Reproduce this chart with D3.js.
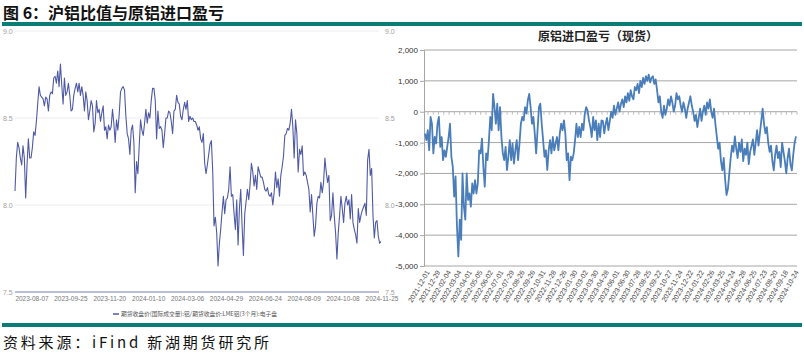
<!DOCTYPE html>
<html>
<head>
<meta charset="utf-8">
<script src="https://cdn.jsdelivr.net/npm/d3@7"></script>
<style>
	body { margin: 0; background: #fff; }
	svg text { font-family: Arial, "Liberation Sans", "Noto Sans CJK SC", sans-serif; }
</style>
</head>
<body>
<div id="chart"></div>
<script>
// left chart: ratio SHFE alu / LME alu
const leftDates = ['2023-08-07', '2023-09-25', '2023-11-20', '2024-01-10', '2024-03-06',
	'2024-04-29', '2024-06-24', '2024-08-09', '2024-10-08', '2024-11-25'];
const leftTicks = [7.5, 8.0, 8.5, 9.0];
const leftValues = [
	8.08, 8.27, 8.36, 8.33, 8.27, 8.23, 8.34, 8.27, 8.04, 8.23, 8.38, 8.27, 8.27, 8.33, 8.42, 8.40, 8.48, 8.58, 8.68,
	8.63, 8.62, 8.61, 8.57, 8.62, 8.61, 8.54, 8.63, 8.65, 8.64, 8.73, 8.74, 8.70, 8.77, 8.68, 8.81, 8.69, 8.58, 8.73, 8.63,
	8.65, 8.70, 8.63, 8.54, 8.55, 8.63, 8.67, 8.70, 8.65, 8.70, 8.63, 8.68, 8.63, 8.54, 8.65, 8.60, 8.49, 8.54, 8.60, 8.57,
	8.42, 8.47, 8.60, 8.53, 8.55, 8.48, 8.53, 8.57, 8.43, 8.45, 8.38, 8.46, 8.43, 8.45, 8.55, 8.47, 8.36, 8.49, 8.43, 8.52,
	8.65, 8.67, 8.68, 8.66, 8.51, 8.41, 8.38, 8.29, 8.43, 8.46, 8.36, 8.07, 8.25, 8.18, 8.34, 8.49, 8.43, 8.40, 8.47, 8.55,
	8.47, 8.53, 8.50, 8.60, 8.67, 8.67, 8.60, 8.38, 8.54, 8.44, 8.45, 8.43, 8.33, 8.41, 8.50, 8.50, 8.54, 8.53, 8.48, 8.41,
	8.54, 8.55, 8.63, 8.59, 8.58, 8.51, 8.49, 8.55, 8.59, 8.55, 8.60, 8.48, 8.51, 8.49, 8.50, 8.48, 8.48, 8.46, 8.43, 8.45,
	8.38, 8.36, 8.41, 8.24, 8.18, 8.23, 8.29, 8.35, 8.37, 8.20, 7.88, 7.93, 7.84, 7.65, 7.78, 7.86, 7.96, 8.05, 7.95, 8.03,
	8.04, 8.09, 8.22, 8.05, 8.06, 7.95, 7.86, 8.03, 7.77, 7.98, 8.09, 7.88, 7.71, 7.95, 8.02, 8.09, 8.03, 8.12, 8.24, 8.19,
	8.11, 8.17, 8.09, 8.22, 8.19, 8.16, 8.16, 8.13, 8.09, 8.08, 8.10, 8.06, 8.05, 8.07, 8.00, 8.07, 8.19, 8.10, 8.15, 8.05,
	8.17, 8.22, 8.28, 8.40, 8.41, 8.44, 8.43, 8.47, 8.55, 8.45, 8.27, 8.49, 8.41, 8.19, 8.32, 8.29, 8.34, 8.17, 8.19, 8.17,
	8.13, 8.09, 7.96, 8.06, 7.94, 7.82, 7.88, 8.01, 8.05, 8.04, 8.13, 8.07, 8.13, 8.27, 8.19, 8.13, 8.17, 7.91, 7.94, 8.07,
	7.94, 7.84, 7.69, 7.84, 7.94, 8.05, 7.98, 7.90, 8.01, 8.05, 8.00, 8.03, 7.92, 8.06, 7.90, 7.86, 7.83, 7.78, 7.98, 7.90,
	7.94, 7.97, 7.99, 8.01, 7.94, 8.26, 8.32, 8.17, 8.21, 7.94, 7.81, 7.90, 7.91, 7.82, 7.78, 7.79
];
const leftLegend = '期货收盘价(国际成交量):铝/期货收盘价:LME铝(3个月):电子盘';

// right chart: spot import profit / loss
const rightDates = ['2021-12-01', '2021-12-29', '2022-02-04', '2022-03-04', '2022-04-01', '2022-05-05',
	'2022-06-02', '2022-07-01', '2022-07-29', '2022-08-26', '2022-09-26', '2022-10-31', '2022-11-28',
	'2022-12-26', '2023-01-30', '2023-03-02', '2023-03-30', '2023-04-28', '2023-06-01', '2023-06-30',
	'2023-07-28', '2023-08-25', '2023-09-22', '2023-10-27', '2023-11-24', '2023-12-22', '2024-01-22',
	'2024-02-26', '2024-03-25', '2024-04-24', '2024-05-28', '2024-06-25', '2024-07-23', '2024-08-20',
	'2024-09-18', '2024-10-24'];
const rightTicks = [2000, 1000, 0, -1000, -2000, -3000, -4000, -5000];
const rightValues = [
	-710, -920, -600, -1250, -170, -390, -1350, -820, -1030, -390, -170, -1140, -820, -1570, -1250, -1460, -1140, -820,
	-390, -1460, -1790, -2750, -2100, -3720, -4690, -3500, -4150, -2000, -3080, -3500, -2000, -2860, -2650, -3080, -2320,
	-2650, -2220, -2650, -2320, -1250, -1350, -870, -1790, -2430, -1350, -1570, -920, -170, -600, 580, 150, -390, 260,
	-600, 150, -820, -1350, -1570, -1140, -1890, -1460, -920, -1570, -1030, -1680, -1250, -920, -1570, -1030, -390, -170,
	-280, 150, -60, 370, 580, 150, -390, -170, -710, -1350, -600, 150, 260, -390, -920, -1460, -1250, -1890, -1250, -920,
	-1350, -820, -1250, -1030, -820, -1250, -710, -390, -600, -280, -710, -1570, -1350, -2220, -1460, -1570, -1350, -920,
	-390, -820, -490, -820, -390, -600, -60, 150, 40, -280, -490, -820, -170, -600, -280, -920, -390, -820, -280,
	-300, -700, -400, -200, -600, -300, 0, -200, 200, -100,
	100, 300, 0, 250, 400, 150, 500, 300, 600, 350, 700, 500, 400, 800,
	700, 900, 600, 1000, 800, 1100, 900, 1150, 1000, 1200, 950, 1100, 1150, 900, 1050,
	700, 300, 500, 0, -200, 200, -100,
	100, 400, 200, 500, 300, 0, 200, 600, 400, 500, 200, 0, 300, 100, -200, 100, 300, 500, 200,
	0, -300, -100, -500, -200, 100, -300, 0, 200, -100, 300, 100, 400, 0, -200, 100, -400,
	-800, -1200, -1000, -1600, -1900, -1500, -2200, -2700, -2500, -2000,
	-1500, -1100, -1300, -800, -1200, -1500, -1000, -1300, -900, -1600, -1200, -1400, -1000, -1700, -1300, -1100, -900,
	-1400, -1000, -600, -1100, -700, -300, 100,
	-400, -700, -500, -1000, -1300, -1100, -1600, -1900, -1400, -1100, -1500, -1300, -1800, -1000, -1300, -1600, -2000,
	-1500, -1200, -1700, -1900, -1400, -1000, -800
];

const width = 804, height = 353;
const teal = '#0b7d78';

const svg = d3.select('#chart').append('svg')
	.attr('width', width)
	.attr('height', height);

// ### header / footer
svg.append('text')
	.attr('x', 3).attr('y', 19)
	.style('font-family', '"Noto Sans CJK SC", sans-serif')
	.style('font-size', '16px')
	.style('font-weight', 'bold')
	.attr('fill', '#111')
	.text('图 6：沪铝比值与原铝进口盈亏');

svg.append('rect').attr('x', 2).attr('y', 22).attr('width', 800).attr('height', 4).attr('fill', teal);
svg.append('rect').attr('x', 2).attr('y', 323).attr('width', 800).attr('height', 4).attr('fill', teal);

svg.append('text')
	.attr('x', 3).attr('y', 348)
	.style('font-family', '"Noto Sans CJK SC", sans-serif')
	.style('font-size', '15px')
	.attr('fill', '#111')
	.attr('textLength', 266)
	.attr('lengthAdjust', 'spacing')
	.text('资料来源：iFind 新湖期货研究所');

// ### LEFT CHART
const lx = d3.scaleLinear().domain([0, leftValues.length - 1]).range([15, 381]);
const ly = d3.scaleLinear().domain([7.5, 9.0]).range([292, 31]);
const lDateX = d3.scalePoint().domain(leftDates).range([32, 382]);

const left = svg.append('g').classed('left-chart', true);

left.selectAll('.grid')
	.data(leftTicks.filter(d => d !== 7.5))
	.enter().append('line')
	.attr('x1', 15).attr('x2', 379)
	.attr('y1', d => ly(d)).attr('y2', d => ly(d))
	.attr('stroke', '#ececf0').attr('stroke-width', 1);

left.append('line')
	.attr('x1', 15).attr('x2', 379)
	.attr('y1', ly(7.5)).attr('y2', ly(7.5))
	.attr('stroke', '#a3a8cf').attr('stroke-width', 1.6);

[['start', 3], ['start', 385]].forEach(([anchor, xPos]) => {
	left.selectAll(null)
		.data(leftTicks)
		.enter().append('text')
		.attr('x', xPos)
		.attr('y', d => ly(d) + 2.5)
		.attr('text-anchor', anchor)
		.style('font-size', '7px')
		.attr('fill', '#a0a0a0')
		.text(d => d3.format('.1f')(d));
});

left.selectAll('.xlab')
	.data(leftDates)
	.enter().append('text')
	.attr('x', d => lDateX(d))
	.attr('y', 301)
	.attr('text-anchor', 'middle')
	.style('font-size', '6.5px')
	.attr('fill', '#777')
	.text(d => d);

left.append('path')
	.datum(leftValues)
	.attr('fill', 'none')
	.attr('stroke', '#4f5aa5')
	.attr('stroke-width', 1.1)
	.attr('stroke-linejoin', 'round')
	.attr('d', d3.line().x((d, i) => lx(i)).y(d => ly(d)));

left.append('line')
	.attr('x1', 113).attr('x2', 119).attr('y1', 314).attr('y2', 314)
	.attr('stroke', '#4f5aa5').attr('stroke-width', 1.5);
left.append('text')
	.attr('x', 121).attr('y', 316)
	.style('font-family', '"Noto Sans CJK SC", sans-serif')
	.style('font-size', '6px')
	.attr('fill', '#555')
	.attr('textLength', 156)
	.attr('lengthAdjust', 'spacingAndGlyphs')
	.text(leftLegend);

// ### RIGHT CHART
const rx = d3.scaleLinear().domain([0, rightValues.length - 1]).range([425, 796]);
const ry = d3.scaleLinear().domain([-5000, 2000]).range([266, 50]);
const rDateX = d3.scalePoint().domain(rightDates).range([428, 797]);
const fmt = d3.formatLocale({ decimal: '.', thousands: ',', grouping: [3], currency: ['', ''], minus: '-' }).format(',');

const right = svg.append('g').classed('right-chart', true);

svg.append('text')
	.attr('x', 598).attr('y', 41)
	.attr('text-anchor', 'middle')
	.style('font-family', '"Noto Sans CJK SC", sans-serif')
	.style('font-size', '12px')
	.style('font-weight', 'bold')
	.attr('fill', '#222')
	.text('原铝进口盈亏（现货）');

right.selectAll('.grid')
	.data(rightTicks)
	.enter().append('line')
	.attr('x1', 424).attr('x2', 797)
	.attr('y1', d => ry(d)).attr('y2', d => ry(d))
	.attr('stroke', '#a6a6a6').attr('stroke-width', 1);

const yAxis = right.append('g')
	.attr('transform', 'translate(424,0)')
	.call(d3.axisLeft(ry).tickValues(rightTicks).tickFormat(fmt).tickSize(4).tickPadding(2));
yAxis.select('.domain').attr('stroke', '#a6a6a6');
yAxis.selectAll('.tick line').attr('stroke', '#a6a6a6');
yAxis.selectAll('.tick text')
	.style('font-size', '8px')
	.style('font-family', '"Liberation Sans Narrow", Arial, sans-serif')
	.attr('fill', '#333');

// category ticks on the zero line
const halfTicks = [];
rightDates.forEach((d, i) => {
	halfTicks.push(rDateX(d));
	if (i < rightDates.length - 1) halfTicks.push((rDateX(d) + rDateX(rightDates[i + 1])) / 2);
});
right.selectAll('.ztick')
	.data(halfTicks)
	.enter().append('line')
	.attr('x1', d => d).attr('x2', d => d)
	.attr('y1', ry(0)).attr('y2', ry(0) + 3)
	.attr('stroke', '#bdbdbd');

right.selectAll('.xlab')
	.data(rightDates)
	.enter().append('text')
	.attr('transform', d => `translate(${rDateX(d) + 2},${ry(-5000) + 6}) rotate(-60)`)
	.attr('text-anchor', 'end')
	.style('font-size', '7px')
	.attr('fill', '#444')
	.text(d => d);

right.append('path')
	.datum(rightValues)
	.attr('fill', 'none')
	.attr('stroke', '#4a7ebb')
	.attr('stroke-width', 1.8)
	.attr('stroke-linejoin', 'round')
	.attr('d', d3.line().x((d, i) => rx(i)).y(d => ry(d)));
</script>
</body>
</html>
